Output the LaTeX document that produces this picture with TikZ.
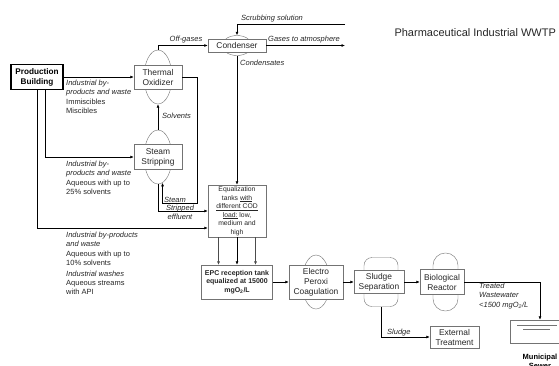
\documentclass[tikz,border=0pt]{standalone}
\usepackage{fontspec}
\setmainfont{Liberation Sans}
\usepackage{tikz}
\usetikzlibrary{shapes.geometric}
\usetikzlibrary{arrows.meta}

\tikzset{
    unit/.style={draw=black!55, fill=white, align=center, inner sep=0.5pt, text=black!85,
        font=\fontsize{8.4}{10}\selectfont},
    vessel/.style={draw=black!55, fill=white, ellipse, inner sep=0pt},
    flow/.style={line width=0.8pt, -{Latex[length=3.5pt,width=3pt]}},
    note/.style={align=left, anchor=north west, inner sep=0pt, text=black!85,
        font=\fontsize{7.5}{9.3}\selectfont},
    tag/.style={inner sep=0pt, text=black!85, font=\fontsize{7.5}{9.3}\selectfont\itshape}
}

\begin{document}
\begin{tikzpicture}[x=1pt, y=-1pt]
        \useasboundingbox (0,0) rectangle (559,365);

        \node[anchor=west, text=black!85, font=\fontsize{11}{13}\selectfont] (title) at (391,33) {Pharmaceutical Industrial WWTP};

        \node[draw, line width=1.2pt, minimum width=52pt, minimum height=24pt, align=center,
            font=\bfseries\fontsize{8.2}{10}\selectfont] (prod) at (37,77) {Production\\Building};

        \node[vessel, minimum width=28pt, minimum height=54pt] (tov) at (158,77) {};
        \node[unit, minimum width=48pt, minimum height=24pt] (to) at (158,77) {Thermal\\Oxidizer};

        \node[vessel, minimum width=30pt, minimum height=20pt] (cdv) at (237,45.5) {};
        \node[unit, minimum width=58pt, minimum height=13pt] (cd) at (237,45.5) {Condenser};

        \node[vessel, minimum width=28pt, minimum height=54pt] (ssv) at (158,157) {};
        \node[unit, minimum width=48pt, minimum height=25pt] (ss) at (158,157) {Steam\\Stripping};

        \node[unit, minimum width=58pt, minimum height=52pt, font=\fontsize{6.8}{8.5}\selectfont] (eq) at (237,211)
            {Equalization\\tanks \underline{with}\\\underline{different COD}\\\underline{load:} low,\\medium and\\high};

        \node[unit, minimum width=71pt, minimum height=34pt, font=\bfseries\fontsize{7}{8.5}\selectfont] (epc) at (237,282)
            {EPC reception tank\\equalized at 15000\\mgO\textsubscript{2}/L};

        \node[vessel, minimum width=28pt, minimum height=54pt] (epv) at (316,282) {};
        \node[unit, minimum width=54pt, minimum height=34pt] (ep) at (316,282) {Electro\\Peroxi\\Coagulation};

        \node[draw=black!55, fill=white, rounded corners=8pt, minimum width=34pt, minimum height=49pt] (sepv) at (381,282) {};
        \node[unit, minimum width=50pt, minimum height=23pt] (sep) at (379,282) {Sludge\\Separation};

        \node[draw=black!55, fill=white, rounded corners=12.4pt, minimum width=25pt, minimum height=58pt] (biov) at (445.5,282) {};
        \node[unit, minimum width=44pt, minimum height=25pt] (bio) at (442,282) {Biological\\Reactor};

        \node[unit, minimum width=49pt, minimum height=22pt] (ext) at (454.5,337) {External\\Treatment};

        \node[draw=black!55, minimum width=60pt, minimum height=23pt] (sewer) at (540,331.5) {};
        \draw[black!55] (517,325) -- (557,325) (523,329) -- (550,329);
        \node[anchor=north, align=center, font=\bfseries\fontsize{7.5}{9}\selectfont] (sewtxt) at (540,351) {Municipal\\Sewer};

        \coordinate (scrub) at (345,24);
        \coordinate (atm) at (345,45.5);
        \coordinate (steamturn) at (197,203);

        \draw[flow] (prod) -- (to);
        \draw[flow] (tov.north) |- (cd.west);
        \draw[flow] (scrub) -| (cdv.north);
        \draw[flow] (cd.east) -- (atm);
        \draw[flow] (cdv.south) -- (eq.north);
        \draw[flow] (ssv.north) -- (tov.south);
        \draw[flow] (to.east) -| (steamturn) -| (ssv.-80);
        \draw[flow] ([xshift=8pt]prod.south) |- (ss.west);
        \draw[flow] (prod.south) |- ([yshift=-17pt]eq.west);
        \draw[flow] (ssv.south) |- (eq.west);
        \foreach \dx in {-18.5,18.5}
            \draw[flow, line width=0.5pt, draw=black!70] ([xshift=\dx pt]eq.south) -- ([xshift=\dx pt]epc.north);
        \draw[flow] (eq.south) -- (epc.north);
        \draw[flow] (epc) -- (ep);
        \draw[flow] (ep) -- (sep);
        \draw[flow] (sep) -- (bio);
        \draw[flow] (bio.east) -| (sewer.north);
        \draw[flow] (sepv.south) |- (ext.west);

        \node[tag, anchor=south] at (186,43) {Off-gases};
        \node[tag, anchor=south west] at (241,22) {Scrubbing solution};
        \node[tag, anchor=south west] at (268,43) {Gases to atmosphere};
        \node[tag, anchor=north west] at (240,60) {Condensates};
        \node[tag, anchor=west] at (162,116) {Solvents};
        \node[tag, anchor=west] at (164,200) {Steam};
        \node[tag, align=center] at (180,212) {Stripped\\effluent};
        \node[tag, anchor=south west] at (387,336) {Sludge};
        \node[tag, anchor=north west, align=left] at (479,283) {Treated\\Wastewater\\<1500 mgO\textsubscript{2}/L};

        \node[note] at (66,80) {\textit{Industrial by-}\\\textit{products and waste}\\Immiscibles\\Miscibles};
        \node[note] at (66,161) {\textit{Industrial by-}\\\textit{products and waste}\\Aqueous with up to\\25\% solvents};
        \node[note] at (66,232) {\textit{Industrial by-products}\\\textit{and waste}\\Aqueous with up to\\10\% solvents\\[1.5pt]
            \textit{Industrial washes}\\Aqueous streams\\with API};
    \end{tikzpicture}
\end{document}
